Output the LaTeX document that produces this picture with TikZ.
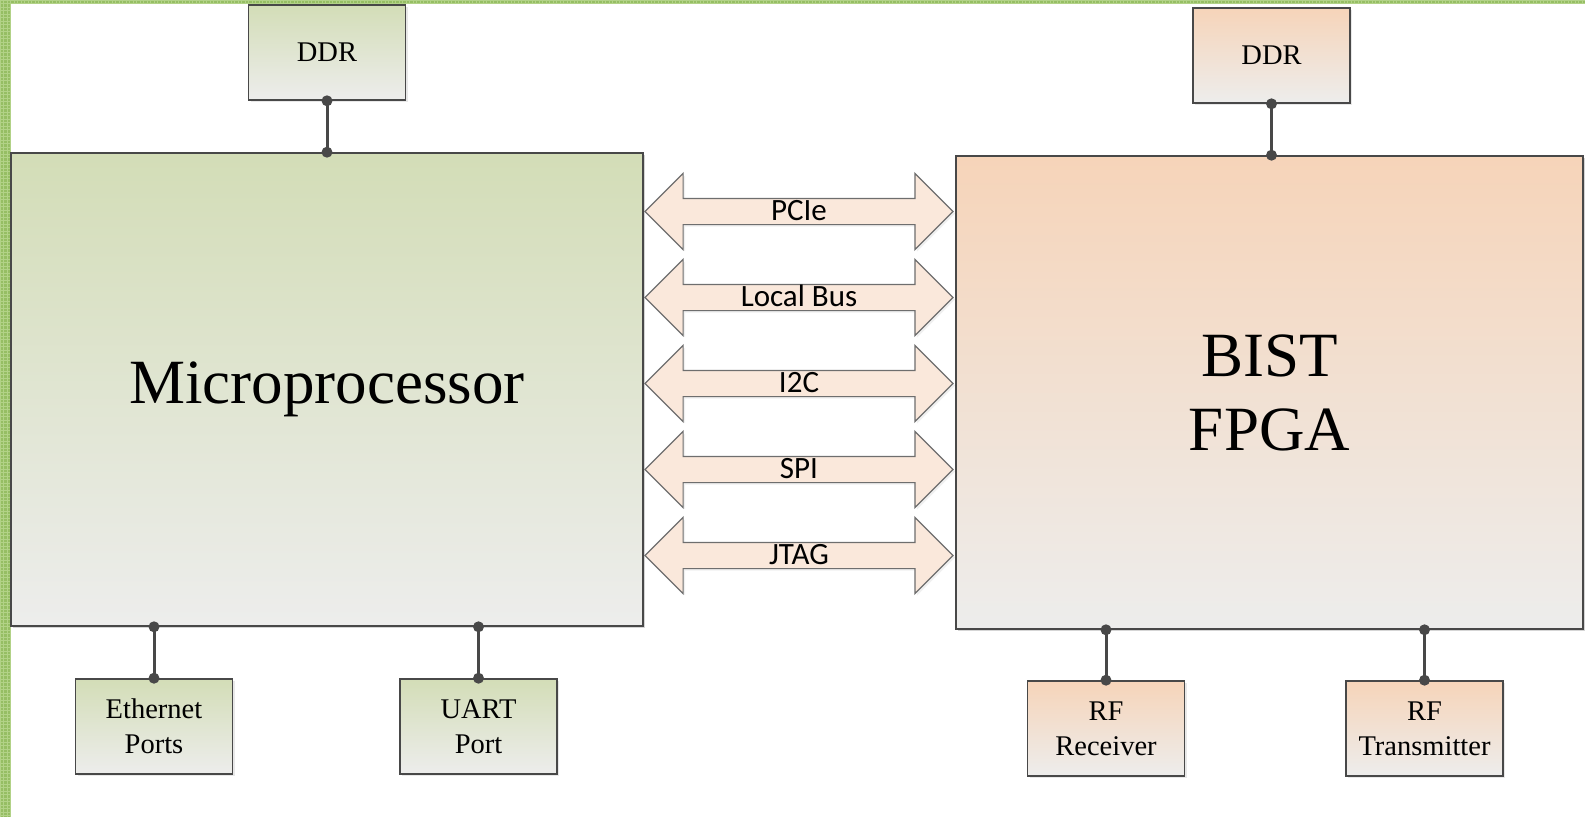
\documentclass[tikz,border=0pt]{standalone}
\usepackage{fontspec}
\setmainfont{Liberation Serif}
\newfontfamily\busfont{Carlito}
\usetikzlibrary{shapes.arrows,shadows}
\definecolor{mpgreen}{RGB}{211,221,183}
\definecolor{fpgaorange}{RGB}{246,212,185}
\definecolor{boxgrey}{RGB}{237,237,236}
\definecolor{linegrey}{RGB}{72,72,72}
\definecolor{busfill}{RGB}{250,232,219}
\definecolor{busline}{RGB}{110,110,110}
\definecolor{edgegreen}{RGB}{150,190,100}
\definecolor{edgelight}{RGB}{178,210,135}
\begin{document}
\begin{tikzpicture}[x=1pt,y=-1pt,
    box/.style={rectangle, draw=linegrey, line width=1.6pt, align=center,
      minimum width=157pt, minimum height=95pt,
      font=\fontsize{28.5}{35}\selectfont,
      drop shadow={opacity=0.18, shadow xshift=2pt, shadow yshift=-2pt}},
    greenbox/.style={box, top color=mpgreen, bottom color=boxgrey},
    orangebox/.style={box, top color=fpgaorange, bottom color=boxgrey},
    bigbox/.style={box, minimum height=473pt, font=\fontsize{63}{74}\selectfont},
    bus/.style={double arrow, draw=busline, fill=busfill, line width=1.2pt,
      minimum height=308pt, double arrow head extend=25pt,
      double arrow head indent=0pt, text height=21pt, text depth=3pt,
      inner ysep=0.5pt, inner xsep=0pt,
      font=\busfont\fontsize{31}{31}\selectfont,
      drop shadow={opacity=0.12, shadow xshift=2pt, shadow yshift=-2pt}},
    dot/.style={circle, fill=linegrey, inner sep=0pt, minimum size=11pt},
    link/.style={draw=linegrey, line width=3pt}]
  \useasboundingbox (0,0) rectangle (1585,817);
  % textured frame
  \fill[edgegreen] (0,0) rectangle (11,817);
  \fill[edgegreen] (0,0) rectangle (1585,3.5);
  \draw[edgelight, line width=0.5pt, step=3.5pt] (0,0) grid (11,817);
  \draw[edgelight, line width=0.5pt, step=3.5pt] (0,0) grid (1585,3.5);
  % processor side
  \node[greenbox] (ddrA) at (327,52.5) {DDR};
  \node[greenbox, bigbox, minimum width=632pt] (mp) at (327,389.5) {Microprocessor};
  \node[greenbox] (eth) at (154,726.5) {Ethernet\\Ports};
  \node[greenbox] (uart) at (478.5,726.5) {UART\\Port};
  % fpga side
  \node[orangebox] (ddrB) at (1271.5,55.5) {DDR};
  \node[orangebox, bigbox, minimum width=627pt] (fpga) at (1269.5,392.5) {BIST\\FPGA};
  \node[orangebox] (rfrx) at (1106,728.5) {RF\\Receiver};
  \node[orangebox] (rftx) at (1424.5,728.5) {RF\\Transmitter};
  % buses
  \node[bus] (pcie) at (799,211.5) {PCIe};
  \node[bus] (lbus) at (799,297.5) {Local Bus};
  \node[bus] (iic) at (799,383.5) {I2C};
  \node[bus] (spi) at (799,469.5) {SPI};
  \node[bus] (jtag) at (799,555.5) {JTAG};
  % links
  \draw[link] (ddrA.south) node[dot]{} -- (ddrA.south |- mp.north) node[dot]{};
  \draw[link] (eth.north) node[dot]{} -- (eth.north |- mp.south) node[dot]{};
  \draw[link] (uart.north) node[dot]{} -- (uart.north |- mp.south) node[dot]{};
  \draw[link] (ddrB.south) node[dot]{} -- (ddrB.south |- fpga.north) node[dot]{};
  \draw[link] (rfrx.north) node[dot]{} -- (rfrx.north |- fpga.south) node[dot]{};
  \draw[link] (rftx.north) node[dot]{} -- (rftx.north |- fpga.south) node[dot]{};
\end{tikzpicture}
\end{document}
